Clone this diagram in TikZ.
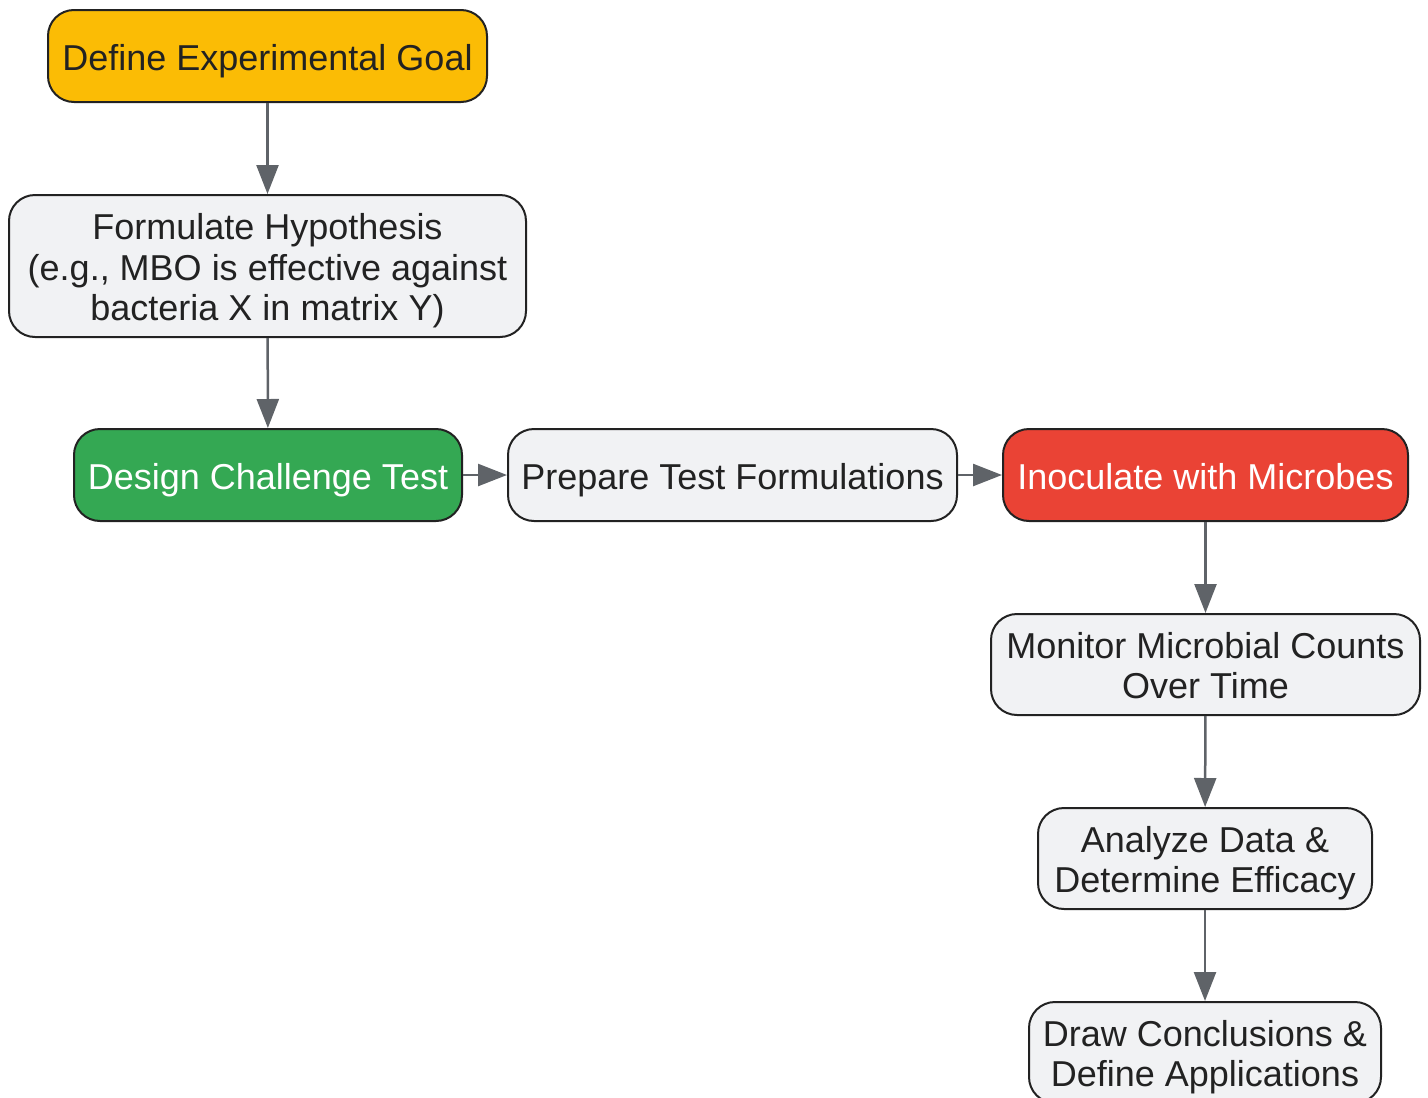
\documentclass[tikz,border=0pt]{standalone}
\usepackage{fontspec}
\setmainfont{Liberation Sans}
\usetikzlibrary{arrows.meta}
\definecolor{goalc}{HTML}{FBBC05}
\definecolor{greenc}{HTML}{34A853}
\definecolor{redc}{HTML}{EA4335}
\definecolor{greyc}{HTML}{F1F2F4}
\definecolor{linec}{HTML}{222222}
\definecolor{arrc}{HTML}{5F6368}
\newcommand{\boxtext}[1]{\raisebox{-6pt}[\height][\depth]{\begin{tabular}{@{}c@{}}#1\end{tabular}}}
\begin{document}
\begin{tikzpicture}[x=1pt,y=-1pt,
  box/.style={draw=linec, line width=2pt, rounded corners=26pt, inner sep=0pt,
    font=\fontsize{36}{40.5}\selectfont, text=linec, fill=greyc},
  arr/.style={draw=arrc, line width=2.5pt, -{Triangle[length=29pt,width=22pt]}}]
\useasboundingbox (0,0) rectangle (1428,1098);
\node[box, fill=goalc, minimum width=439pt, minimum height=92pt] (goal) at (267.5,56) {\boxtext{Define Experimental Goal}};
\node[box, minimum width=517pt, minimum height=142pt] (hyp) at (267.5,266) {\boxtext{Formulate Hypothesis\\(e.g., MBO is effective against\\bacteria X in matrix Y)}};
\node[box, fill=greenc, text=white, minimum width=388pt, minimum height=92pt] (design) at (268,475) {\boxtext{Design Challenge Test}};
\node[box, minimum width=449pt, minimum height=92pt] (prep) at (732.5,475) {\boxtext{Prepare Test Formulations}};
\node[box, fill=redc, text=white, minimum width=405pt, minimum height=92pt] (inoc) at (1205.5,475) {\boxtext{Inoculate with Microbes}};
\node[box, minimum width=429pt, minimum height=101pt] (mon) at (1205.5,664.5) {\boxtext{Monitor Microbial Counts\\Over Time}};
\node[box, minimum width=334pt, minimum height=101pt] (ana) at (1205,858.5) {\boxtext{Analyze Data \&\\Determine Efficacy}};
\node[box, minimum width=352pt, minimum height=101pt] (draw) at (1205,1052.5) {\boxtext{Draw Conclusions \&\\Define Applications}};
\draw[arr] (goal) -- (hyp);
\draw[arr] (hyp) -- (design);
\draw[arr] (design) -- (prep);
\draw[arr] (prep) -- (inoc);
\draw[arr] (inoc) -- (mon);
\draw[arr] (mon) -- (ana);
\draw[arr] (ana) -- (draw);
\end{tikzpicture}
\end{document}
